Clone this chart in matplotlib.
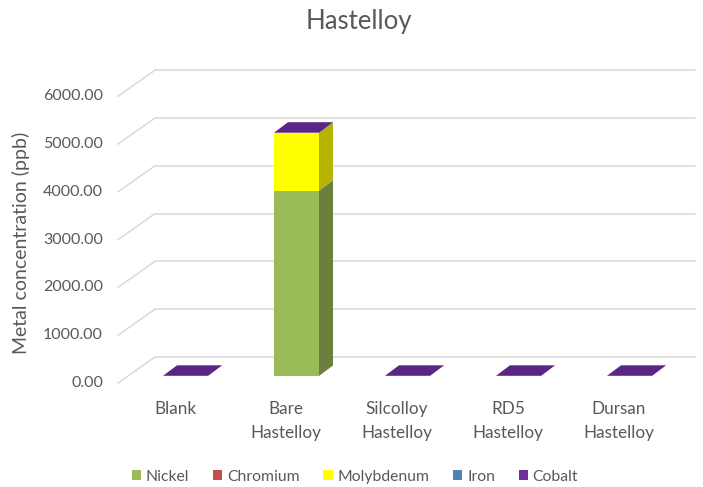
import matplotlib
matplotlib.use("Agg")
import matplotlib.pyplot as plt
from matplotlib.patches import Polygon
import matplotlib.transforms as mtransforms
import numpy as np

categories = ["Blank", "Bare\nHastelloy", "Silcolloy\nHastelloy", "RD5\nHastelloy", "Dursan\nHastelloy"]
series_names = ["Nickel", "Chromium", "Molybdenum", "Iron", "Cobalt"]
nickel = [2.0, 3870.0, 2.0, 2.0, 2.0]
chromium = [0.5, 10.0, 0.5, 0.5, 0.5]
molybdenum = [0.5, 1200.0, 0.5, 0.5, 0.5]
iron = [0.5, 5.0, 0.5, 0.5, 0.5]
cobalt = [0.5, 5.0, 0.5, 0.5, 0.5]
yticks = [0, 1000, 2000, 3000, 4000, 5000, 6000]
title = "Hastelloy"
ylabel = "Metal concentration (ppb)"

front_colors = ["#9BBB59", "#C0504D", "#FFFF00", "#4F81BD", "#7030A0"]
side_colors = ["#6B803D", "#8A3836", "#B5B500", "#375C88", "#4E1F72"]
top_color = "#5B2585"
text_color = "#595959"
grid_color = "#D9D9D9"

W, H = 703, 487
fig = plt.figure(figsize=(W / 100, H / 100), dpi=100)
ax = fig.add_axes([0, 0, 1, 1])
ax.axis("off")

# pixel mapping of front plane: x px = 175 + 111*i ; y px(from top) = 383 - 0.0478*v
px_per_cat = 111.0
px_per_val = 0.0478
x0px, y0px = 175.0, 383.0
ax.set_xlim(-x0px / px_per_cat, (W - x0px) / px_per_cat)
ax.set_ylim((y0px - H) / px_per_val, y0px / px_per_val)

def dx(p):
    return p / px_per_cat

def dy(p):
    return p / px_per_val

plt.rcParams["font.family"] = ["Lato", "DejaVu Sans"]

# wall / gridlines
wall_dx, wall_dy = dx(37), dy(26)
grid_left = dx(118 - x0px)
grid_right = dx(695 - x0px)
for v in yticks:
    ax.plot([grid_left, grid_left + wall_dx], [v, v + wall_dy], color=grid_color, lw=1.1, zorder=1)
    ax.plot([grid_left + wall_dx, grid_right], [v + wall_dy, v + wall_dy], color=grid_color, lw=1.1, zorder=1)
    ax.text(dx(103 - x0px), v, f"{v:.2f}", ha="right", va="center", fontsize=11.5, color=text_color)

# bars
x = np.arange(len(categories))
data = [nickel, chromium, molybdenum, iron, cobalt]
bw = dx(45)
fx, fy = dx(10.5), dy(7)
sx, sy = dx(14), dy(10.5)
bottoms = np.zeros(len(categories))
for name, vals, fc, sc in zip(series_names, data, front_colors, side_colors):
    vals = np.array(vals)
    ax.bar(x + fx, vals, bw, bottom=bottoms + fy, color=fc, label=name, zorder=3, linewidth=0)
    for i in range(len(categories)):
        if vals[i] <= 0:
            continue
        xr = x[i] + fx + bw / 2
        yb = bottoms[i] + fy
        yt = yb + vals[i]
        ax.add_patch(Polygon([[xr, yb], [xr + sx, yb + sy], [xr + sx, yt + sy], [xr, yt]],
                             closed=True, facecolor=sc, edgecolor="none", zorder=3))
    bottoms = bottoms + vals

for i in range(len(categories)):
    xl = x[i] + fx - bw / 2
    xr = x[i] + fx + bw / 2
    yt = bottoms[i] + fy
    ax.add_patch(Polygon([[xl, yt], [xr, yt], [xr + sx, yt + sy], [xl + sx, yt + sy]],
                         closed=True, facecolor=top_color, edgecolor="none", zorder=4))

# category labels
trans = mtransforms.blended_transform_factory(ax.transData, ax.transAxes)
for i, lab in enumerate(categories):
    ax.text(x[i], (H - 401) / H, lab, transform=trans, ha="center", va="top",
            fontsize=12.3, color=text_color, linespacing=1.65)

fig.text(21 / W, 1 - 243 / H, ylabel, rotation=90, ha="center", va="center", fontsize=14, color=text_color)
fig.text(359 / W, 1 - 22 / H, title, ha="center", va="center", fontsize=18.5, color=text_color)

leg = ax.legend(loc="center", bbox_to_anchor=(355 / W, 1 - 477 / H), bbox_transform=fig.transFigure,
                ncol=5, frameon=False, fontsize=11.3, handlelength=0.6, handleheight=0.6,
                handletextpad=0.3, columnspacing=1.5)
for t in leg.get_texts():
    t.set_color(text_color)

fig.savefig("out.png", dpi=100)
